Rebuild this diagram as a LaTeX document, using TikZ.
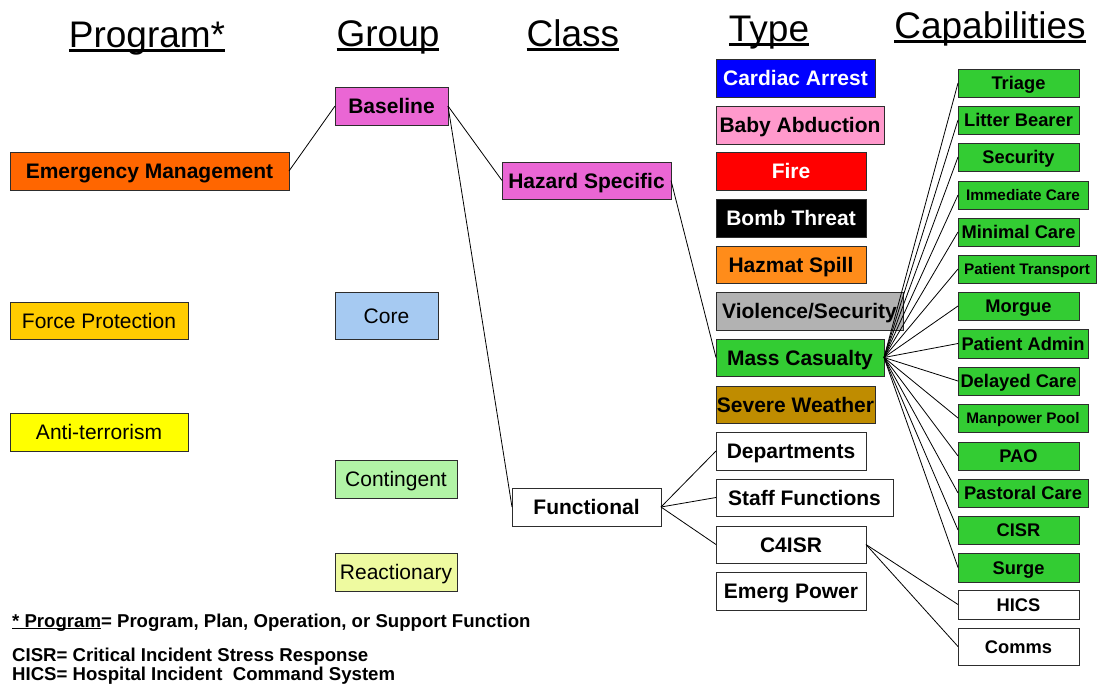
\documentclass[tikz,border=0pt]{standalone}
\usepackage{fontspec}
\setmainfont{Liberation Sans}

% text with a drawn underline beneath it
\newcommand\ulined[1]{\setbox0=\hbox{#1}\leavevmode\rlap{\rule[-0.13em]{\wd0}{0.075em}}\box0}

\definecolor{boxline}{RGB}{45,45,45}
\definecolor{emorange}{RGB}{255,102,0}
\definecolor{fpgold}{RGB}{255,204,0}
\definecolor{atyellow}{RGB}{255,255,0}
\definecolor{magpink}{RGB}{234,102,212}
\definecolor{coreblue}{RGB}{166,202,242}
\definecolor{contgreen}{RGB}{178,244,166}
\definecolor{reacyellow}{RGB}{238,250,160}
\definecolor{babypink}{RGB}{255,153,204}
\definecolor{hazorange}{RGB}{255,140,26}
\definecolor{violgray}{RGB}{178,178,178}
\definecolor{casgreen}{RGB}{51,204,51}
\definecolor{wxgold}{RGB}{191,140,0}

\tikzset{
  box/.style={draw=boxline, line width=0.9pt, inner sep=0pt, outer sep=0pt,
    align=center, anchor=north west, text height=15pt, text depth=0pt,
    font=\bfseries\fontsize{21}{24}\selectfont},
  plainbox/.style={box, font=\fontsize{21}{24}\selectfont},
  capbox/.style={box, fill=casgreen, text height=13.1pt,
    font=\bfseries\fontsize{18.3}{21}\selectfont},
  smallcap/.style={capbox, text height=11pt,
    font=\bfseries\fontsize{15.3}{18}\selectfont},
  wh/.style 2 args={minimum width=#1pt, minimum height=#2pt},
  hdr/.style={anchor=base, inner sep=0pt, font=\fontsize{37}{40}\selectfont},
  note/.style={anchor=base west, inner sep=0pt, font=\bfseries\fontsize{18.6}{21}\selectfont},
  link/.style={draw=black, line width=0.8pt}
}

\begin{document}
\begin{tikzpicture}[x=1pt, y=-1pt]
\useasboundingbox (0,0) rectangle (1097,686);

% column headings
\node[hdr] (hProg)  at (147,47) {\ulined{Program*}};
\node[hdr] (hGroup) at (388,46) {\ulined{Group}};
\node[hdr] (hClass) at (573,46) {\ulined{Class}};
\node[hdr] (hType)  at (769,41) {\ulined{Type}};
\node[hdr] (hCap)   at (990,38) {\ulined{Capabilities}};

% programs
\node[box, fill=emorange, wh={279}{38}] (em) at (10,152) {Emergency Management};
\node[plainbox, fill=fpgold, wh={178}{37}] (fp) at (10,302) {Force Protection};
\node[plainbox, fill=atyellow, wh={178}{38}] (at) at (10,413) {Anti-terrorism};

% groups
\node[box, fill=magpink, wh={113}{38}] (base) at (335,87) {Baseline};
\node[plainbox, fill=coreblue, wh={103}{47}] (core) at (335,292) {Core};
\node[plainbox, fill=contgreen, wh={122}{38}] (cont) at (335,460) {Contingent};
\node[plainbox, fill=reacyellow, wh={122}{38}] (reac) at (335,553) {Reactionary};

% classes
\node[box, fill=magpink, wh={169}{37}] (haz) at (502,162) {Hazard Specific};
\node[box, fill=white, wh={149}{38}] (func) at (512,488) {Functional};

% types
\node[box, fill=blue, text=white, wh={159}{38}] (card) at (716,59) {Cardiac Arrest};
\node[box, fill=babypink, wh={168}{38}] (baby) at (716,106) {Baby Abduction};
\node[box, fill=red, text=white, wh={150}{38}] (fire) at (716,152) {Fire};
\node[box, fill=black, text=white, wh={150}{38}] (bomb) at (716,199) {Bomb Threat};
\node[box, fill=hazorange, wh={150}{37}] (hazm) at (716,246) {Hazmat Spill};
\node[box, fill=violgray, wh={187}{38}] (viol) at (716,292) {Violence/Security};
\node[box, fill=casgreen, wh={168}{37}] (mass) at (716,339) {Mass Casualty};
\node[box, fill=wxgold, wh={159}{37}] (sev) at (716,386) {Severe Weather};
\node[box, fill=white, wh={150}{38}] (dept) at (716,432) {Departments};
\node[box, fill=white, wh={177}{37}] (staff) at (716,479) {Staff Functions};
\node[box, fill=white, wh={150}{37}] (c4) at (716,526) {C4ISR};
\node[box, fill=white, wh={150}{38}] (power) at (716,572) {Emerg Power};

% capabilities
\node[capbox, wh={121}{28}] (triage) at (958,69) {Triage};
\node[capbox, wh={121}{28}] (litter) at (958,106) {Litter Bearer};
\node[capbox, wh={121}{28}] (secu) at (958,143) {Security};
\node[smallcap, wh={130}{28}] (immed) at (958,181) {Immediate Care};
\node[capbox, wh={121}{28}] (minim) at (958,218) {Minimal Care};
\node[smallcap, wh={138}{28}] (ptrans) at (958,255) {Patient Transport};
\node[capbox, wh={121}{28}] (morgue) at (958,292) {Morgue};
\node[capbox, wh={130}{29}] (padmin) at (958,329) {Patient Admin};
\node[capbox, wh={121}{28}] (delay) at (958,367) {Delayed Care};
\node[smallcap, wh={130}{28}] (manp) at (958,404) {Manpower Pool};
\node[capbox, wh={121}{28}] (pao) at (958,442) {PAO};
\node[capbox, wh={130}{28}] (past) at (958,479) {Pastoral Care};
\node[capbox, wh={121}{28}] (cisr) at (958,516) {CISR};
\node[capbox, wh={121}{29}] (surge) at (958,553) {Surge};
\node[capbox, fill=white, wh={121}{29}] (hics) at (958,590) {HICS};
\node[capbox, fill=white, wh={121}{37}] (comms) at (958,628) {Comms};

% connectors
\draw[link] (em.east) -- (base.west);
\draw[link] (base.east) -- (haz.west);
\draw[link] (base.east) -- (func.west);
\draw[link] (haz.east) -- (mass.west);
\foreach \t in {dept,staff,c4}
  \draw[link] (func.east) -- (\t.west);
\foreach \c in {triage,litter,secu,immed,minim,ptrans,morgue,padmin,delay,manp,pao,past,cisr,surge}
  \draw[link] (mass.east) -- (\c.west);
\draw[link] (c4.east) -- (hics.west);
\draw[link] (c4.east) -- (comms.west);

% footnotes
\node[note] (n1) at (12,627) {\ulined{* Program}= Program, Plan, Operation, or Support Function};
\node[note] (n2) at (12,661) {CISR= Critical Incident Stress Response};
\node[note] (n3) at (12,680) {HICS= Hospital Incident \ Command System};
\end{tikzpicture}
\end{document}
